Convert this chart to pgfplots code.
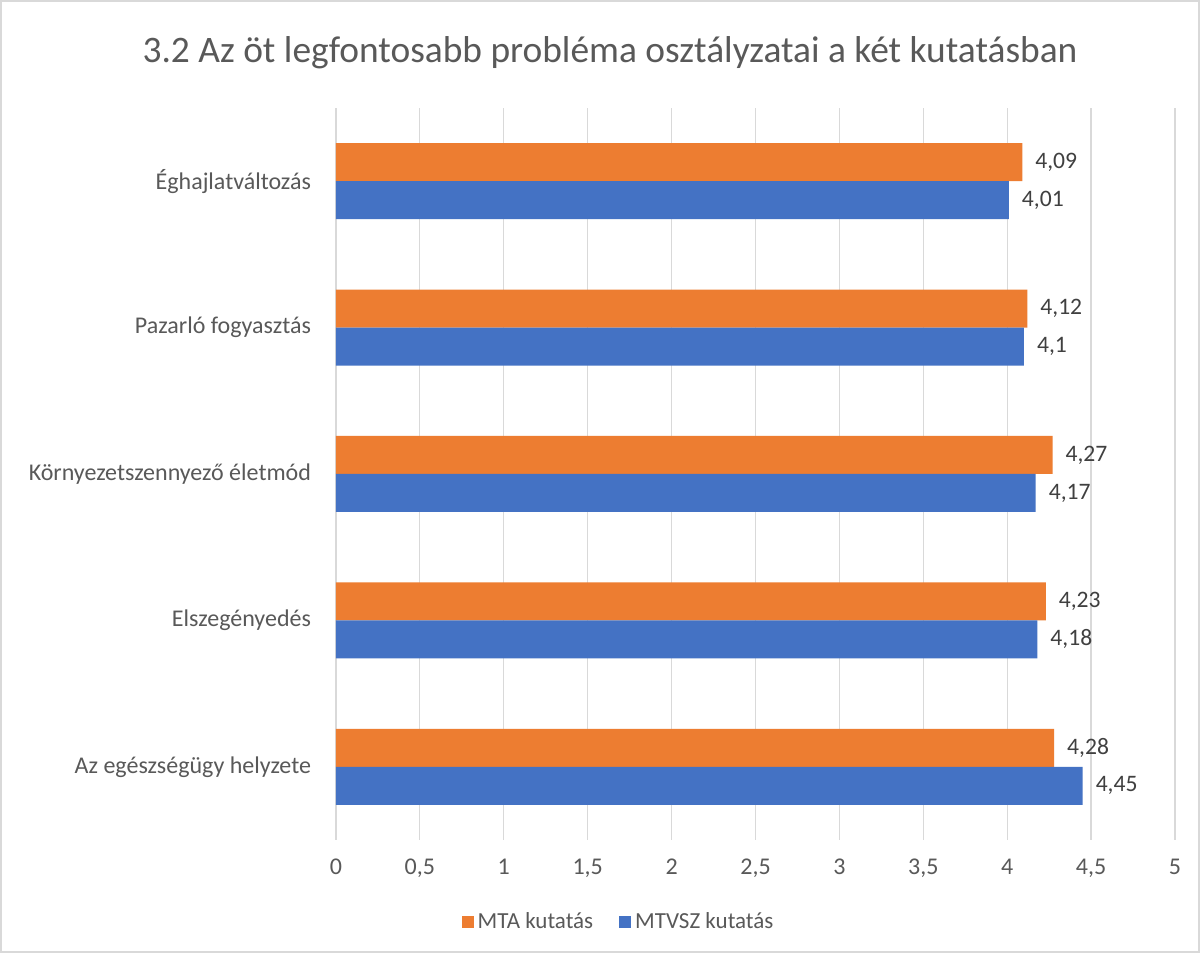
\documentclass[border=0pt]{standalone}
\usepackage{fontspec}
\setmainfont{Carlito}
\usepackage{pgfplots}
\pgfplotsset{compat=1.18}
\definecolor{mta}{HTML}{ED7D31}
\definecolor{mtvsz}{HTML}{4472C4}
\definecolor{gridc}{HTML}{D9D9D9}
\definecolor{txt}{HTML}{595959}
\definecolor{lbl}{HTML}{404040}
\begin{document}
\begin{tikzpicture}[x=1pt,y=1pt]
\fill[white] (0,0) rectangle (600,476.5);
\draw[gridc, line width=0.6pt] (0.5,0.5) rectangle (599.5,476);
\node[txt, font=\fontsize{18.7}{22}\selectfont] at (305,450) {3.2 Az öt legfontosabb probléma osztályzatai a két kutatásban};
\begin{axis}[
  at={(168pt,56.5pt)}, anchor=south west,
  scale only axis, width=419.5pt, height=366pt,
  xbar, bar width=19pt,
  xmin=0, xmax=5, ymin=-0.5, ymax=4.5,
  ytick={0,...,4},
  yticklabels={Az egészségügy helyzete, Elszegényedés, Környezetszennyező életmód, Pazarló fogyasztás, Éghajlatváltozás},
  xtick={0,0.5,...,5},
  /pgf/number format/use comma,
  /pgf/number format/assume math mode=true,
  axis line style={draw=none},
  major tick length=0pt,
  xmajorgrids, grid style={gridc, line width=0.6pt},
  tick label style={font=\fontsize{12}{14}\selectfont, text=txt},
  xticklabel style={yshift=-6pt},
  yticklabel style={xshift=-9pt},
  nodes near coords,
  nodes near coords style={font=\fontsize{11.8}{14}\selectfont, text=lbl, anchor=west, xshift=3pt},
  legend style={draw=none, fill=none, legend columns=2, at={(0.338,-0.112)}, anchor=center,
    font=\fontsize{11.5}{14}\selectfont, text=txt,
    /tikz/every even column/.append style={column sep=11pt}},
  legend image code/.code={\fill[#1] (0pt,-3pt) rectangle (6pt,3pt);},
]
\addplot[fill=mta, draw=none, bar shift=9.5pt] coordinates {(4.28,0) (4.23,1) (4.27,2) (4.12,3) (4.09,4)};
\addlegendentry{MTA kutatás}
\addplot[fill=mtvsz, draw=none, bar shift=-9.5pt] coordinates {(4.45,0) (4.18,1) (4.17,2) (4.1,3) (4.01,4)};
\addlegendentry{MTVSZ kutatás}
\end{axis}
\end{tikzpicture}
\end{document}
